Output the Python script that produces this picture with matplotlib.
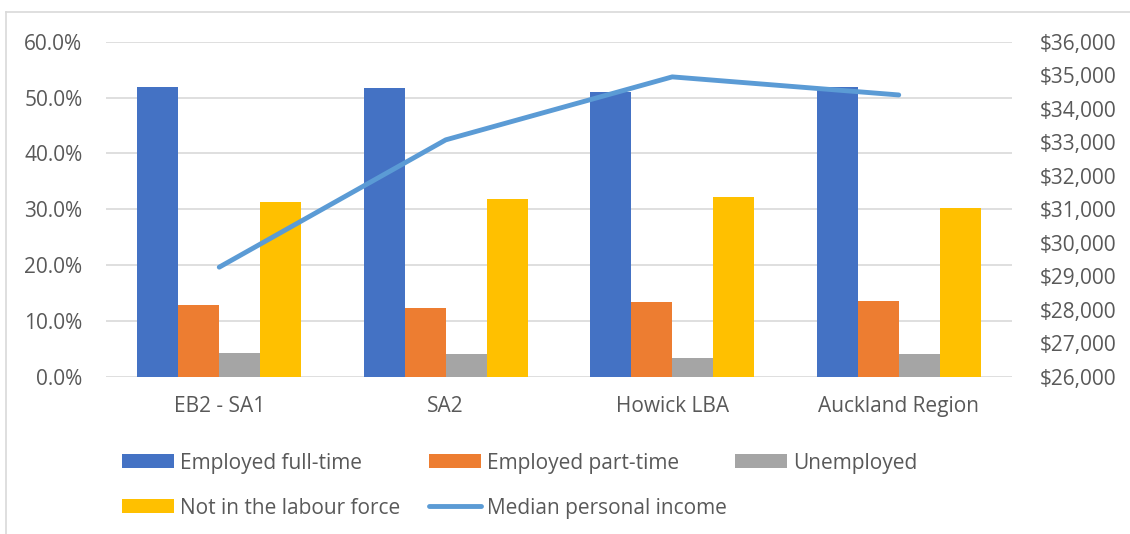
import matplotlib
matplotlib.use("Agg")
import matplotlib.pyplot as plt
from matplotlib import font_manager
from matplotlib.patches import Rectangle
from matplotlib.lines import Line2D
from matplotlib.ticker import FuncFormatter, MultipleLocator
import numpy as np

# ---- data -------------------------------------------------------------
categories = ["EB2 - SA1", "SA2", "Howick LBA", "Auckland Region"]
employed_full_time = [51.8, 51.7, 51.0, 51.8]
employed_part_time = [12.9, 12.3, 13.3, 13.6]
unemployed = [4.2, 4.0, 3.4, 4.1]
not_in_labour_force = [31.3, 31.9, 32.2, 30.3]
median_personal_income = [29270, 33070, 34950, 34410]

bar_labels = ["Employed full-time", "Employed part-time", "Unemployed",
              "Not in the labour force"]
line_label = "Median personal income"

# ---- styling ----------------------------------------------------------
bar_colors = ["#4472C4", "#ED7D31", "#A5A5A5", "#FFC000"]
line_color = "#5B9BD5"
text_color = "#595959"
grid_color = "#D9D9D9"

available = {f.name for f in font_manager.fontManager.ttflist}
ui_font = "Open Sans" if "Open Sans" in available else "DejaVu Sans"

W, H = 1130, 534
fig = plt.figure(figsize=(W / 100, H / 100), dpi=100)


def fx(px):
    return px / W


def fy(py):
    return 1 - py / H


ax_left, ax_right = 106, 1012
ax_top, ax_bottom = 41.7, 376.7
ax = fig.add_axes([fx(ax_left), fy(ax_bottom), fx(ax_right - ax_left),
                   (ax_bottom - ax_top) / H])

x = np.arange(len(categories))
bar_w = 0.181
series = [employed_full_time, employed_part_time, unemployed,
          not_in_labour_force]
for i, (vals, col, lab) in enumerate(zip(series, bar_colors, bar_labels)):
    ax.bar(x + (i - 1.5) * bar_w, vals, width=bar_w, color=col, label=lab,
           zorder=3, linewidth=0)

ax.set_xlim(-0.5, len(categories) - 0.5)
ax.set_ylim(0, 60)
ax.yaxis.set_major_locator(MultipleLocator(10))
ax.yaxis.set_major_formatter(FuncFormatter(lambda v, p: f"{v:.1f}%"))
ax.grid(axis="y", color=grid_color, linewidth=1.2, zorder=0)
ax.set_axisbelow(True)
for s in ax.spines.values():
    s.set_visible(False)
ax.set_xticks(x)
ax.set_xticklabels(categories)
ax.tick_params(axis="x", length=0, pad=14, labelsize=15, labelcolor=text_color)
ax.tick_params(axis="y", length=0, pad=17, labelsize=15, labelcolor=text_color)
for t in ax.get_xticklabels() + ax.get_yticklabels():
    t.set_fontfamily(ui_font)

ax2 = ax.twinx()
ax2.plot(x, median_personal_income, color=line_color, linewidth=3.5,
         solid_capstyle="round", solid_joinstyle="round", zorder=4)
ax2.set_ylim(26000, 36000)
ax2.yaxis.set_major_locator(MultipleLocator(1000))
ax2.yaxis.set_major_formatter(FuncFormatter(lambda v, p: f"${v:,.0f}"))
ax2.tick_params(axis="y", length=0, pad=20, labelsize=15, labelcolor=text_color)
for t in ax2.get_yticklabels():
    t.set_fontfamily(ui_font)
for s in ax2.spines.values():
    s.set_visible(False)

# chart frame (open to the right and bottom)
fig.add_artist(Line2D([fx(6), fx(6)], [0, fy(12)], color=grid_color,
                      linewidth=1.2, transform=fig.transFigure))
fig.add_artist(Line2D([fx(6), 1], [fy(12), fy(12)], color=grid_color,
                      linewidth=1.2, transform=fig.transFigure))

# legend, two rows
legend_items = [
    ("patch", bar_colors[0], bar_labels[0], 122, 461),
    ("patch", bar_colors[1], bar_labels[1], 429, 461),
    ("patch", bar_colors[2], bar_labels[2], 735, 461),
    ("patch", bar_colors[3], bar_labels[3], 122, 506),
    ("line", line_color, line_label, 429, 506),
]
for kind, col, lab, px, py in legend_items:
    if kind == "patch":
        fig.add_artist(Rectangle((fx(px), fy(py + 7)), fx(52), 14 / H,
                                 color=col, transform=fig.transFigure,
                                 linewidth=0))
    else:
        fig.add_artist(Line2D([fx(px), fx(px + 52)], [fy(py), fy(py)],
                              color=col, linewidth=3.5, solid_capstyle="round",
                              transform=fig.transFigure))
    fig.text(fx(px + 58), fy(py), lab, fontsize=15, color=text_color,
             family=ui_font, ha="left", va="center_baseline")

fig.savefig("out.png", dpi=100, facecolor="white")
